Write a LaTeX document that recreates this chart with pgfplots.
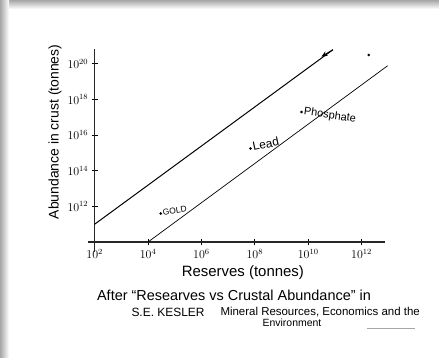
\documentclass[border=0pt]{standalone}
\usepackage{fontspec}
\setmainfont{Liberation Sans}
\usepackage{pgfplots}
\pgfplotsset{compat=1.18}
\usetikzlibrary{arrows.meta}
\begin{document}
\begin{tikzpicture}
% page background with drop shadow
\fill[white] (0,0) rectangle (439bp,358bp);
\shade[top color=black!35, bottom color=white] (0,349bp) rectangle (439bp,358bp);
\shade[left color=black!35, right color=white] (0,0) rectangle (9bp,358bp);
\begin{axis}[
  at={(94.7bp,116bp)}, anchor=south west,
  scale only axis, width=290bp, height=193bp,
  xmode=log, ymode=log,
  xmin=1e2, xmax=7.4e12, ymin=1e10, ymax=6.9e20,
  axis lines=left,
  axis line style={-, line width=1.3pt, black!85},
  clip=false,
  xtick={1e2,1e4,1e6,1e8,1e10,1e12},
  ytick={1e12,1e14,1e16,1e18,1e20},
  minor tick num=0,
  tick align=center,
  major tick length=6bp,
  tick style={line width=1pt, black},
  tick label style={font=\fontsize{12}{14}\selectfont},
  xticklabel style={yshift=-1bp},
  xlabel={Reserves (tonnes)},
  ylabel={Abundance in crust (tonnes)},
  xlabel style={at={(rel axis cs:0.511,-0.16)}, anchor=center, font=\fontsize{15}{17}\selectfont},
  ylabel style={at={(rel axis cs:-0.137,0.57)}, anchor=center, font=\fontsize{14}{16}\selectfont},
]
% axis extensions past the crossing
\draw[line width=1.3pt, black!85] (axis cs:5.5e1,1e10) -- (axis cs:1e2,1e10);
\draw[line width=1.3pt, black!85] (axis cs:1e2,2.9e9) -- (axis cs:1e2,1e10);
% upper line
\addplot[black, line width=1pt] coordinates {(1e2,1e11) (8.5e10,6.3e20)};
\addplot[black, line width=1pt, -{Stealth[length=6bp,width=5bp]}] coordinates {(8.5e10,6.3e20) (3.16e10,2.57e20)};
% lower line
\addplot[black, line width=0.7pt] coordinates {(1e4,1e10) (9.5e12,7.9e19)};
% minerals
\addplot[only marks, mark=*, mark size=1.1bp, black] coordinates {
  (3.0e4,4.0e11) (6.9e7,1.8e15) (5.6e9,2.0e17) (1.86e12,3.2e20)};
\node[anchor=west, rotate=10, font=\fontsize{8.5}{10}\selectfont, inner sep=0.5bp] at (axis cs:3.4e4,4.3e11) {GOLD};
\node[anchor=west, rotate=12, font=\fontsize{12}{13}\selectfont, inner sep=1bp] at (axis cs:7.6e7,2.2e15) {Lead};
\node[anchor=west, rotate=-8, font=\fontsize{11}{12}\selectfont, inner sep=1bp] at (axis cs:6.3e9,2.0e17) {Phosphate};
\end{axis}
% caption
\node[font=\fontsize{14.5}{16}\selectfont] at (234bp,63bp) {After ``Researves vs Crustal Abundance'' in};
\node[anchor=west, font=\fontsize{12}{14}\selectfont] at (128bp,46bp) {S.E. KESLER};
\node[anchor=west, font=\fontsize{11.5}{13}\selectfont] at (217bp,46bp) {Mineral Resources, Economics and the};
\node[font=\fontsize{10.5}{12}\selectfont] at (292bp,35bp) {Environment};
\draw[black!35, line width=0.8bp] (367bp,30bp) -- (415bp,30bp);
\pgfresetboundingbox
\useasboundingbox (0,0) rectangle (439bp,358bp);
\end{tikzpicture}
\end{document}
